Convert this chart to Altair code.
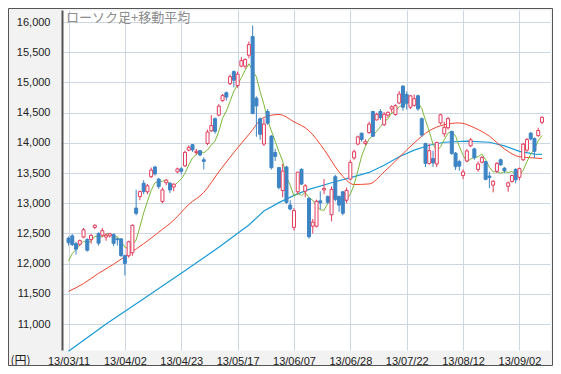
import altair as alt
import pandas as pd

# ---- data (daily candles, 2013/03/11 - 2013/09/10) ----
opens = [12420, 12460, 12330, 12320, 12440, 12400, 12400, 12600, 12500, 12470,
         12440, 12460, 12480, 12410, 12410, 12130, 12130, 12180, 12920, 13110,
         13330, 13190, 13440, 13600, 13400, 13030, 13340, 13330, 13270, 13520,
         13570, 13620, 13880, 13970, 13840, 13870, 13720, 13990, 14200, 14400,
         14460, 14700, 14830, 14980, 15180, 14950, 15270, 15270, 15450, 15760,
         14740, 14400, 13980, 14520, 14110, 13840, 13590, 13210, 13600, 12970,
         12600, 13190, 13560, 13200, 13080, 12620, 12620, 13040, 13220, 13110,
         12810, 13440, 13110, 13190, 13050, 13400, 13750, 13980, 14160, 13990,
         14170, 14520, 14380, 14520, 14300, 14460, 14560, 14470, 14660, 14940,
         14800, 14590, 14620, 14780, 14400, 13990, 13660, 13740, 13650, 14330,
         14150, 14250, 14190, 13830, 13690, 13460, 13700, 13950, 13900, 13560,
         13680, 13690, 13450, 13300, 13530, 13720, 13580, 13280, 13360, 13560,
         13430, 13720, 13880, 14160, 14070, 14120, 14340]
highs = [12450, 12490, 12360, 12400, 12590, 12420, 12490, 12650, 12520, 12590,
         12500, 12510, 12500, 12430, 12420, 12150, 12380, 12650, 13225, 13210,
         13380, 13320, 13590, 13620, 13420, 13260, 13400, 13350, 13330, 13590,
         13600, 13870, 13960, 13980, 13900, 13880, 13760, 14220, 14460, 14420,
         14640, 14810, 14850, 15130, 15200, 15180, 15420, 15400, 15680, 15942,
         14770, 14420, 14400, 14560, 14130, 13900, 13600, 13650, 13620, 13050,
         12920, 13520, 13580, 13320, 13100, 12740, 13060, 13200, 13400, 13130,
         13280, 13470, 13130, 13200, 13260, 13720, 13890, 14120, 14170, 14060,
         14350, 14530, 14500, 14560, 14510, 14520, 14620, 14640, 14860, 14953,
         14850, 14790, 14800, 14800, 14420, 14000, 13980, 13870, 14020, 14480,
         14350, 14430, 14200, 13850, 13720, 13560, 13900, 14080, 13920, 13690,
         13780, 13700, 13520, 13380, 13680, 13740, 13600, 13360, 13470, 13580,
         13590, 14000, 14080, 14180, 14090, 14250, 14440]
lows = [12300, 12290, 12150, 12290, 12420, 12200, 12330, 12570, 12300, 12440,
        12380, 12430, 12290, 12300, 12110, 11805, 12100, 12130, 12800, 13050,
        13150, 13150, 13420, 13460, 13240, 13000, 13300, 13170, 13200, 13500,
        13480, 13600, 13860, 13850, 13800, 13780, 13560, 13960, 14180, 14150,
        14440, 14680, 14700, 14960, 14920, 14910, 15250, 15230, 15400, 14480,
        14100, 14050, 13950, 14300, 13560, 13700, 13230, 13100, 12990, 12880,
        12548, 13150, 13300, 13100, 12415, 12500, 12600, 12900, 13150, 12990,
        12700, 13030, 12860, 12800, 13000, 13380, 13720, 13960, 14020, 13960,
        14150, 14100, 14370, 14380, 14280, 14420, 14500, 14450, 14640, 14530,
        14550, 14560, 14600, 14530, 14100, 13600, 13640, 13600, 13600, 14300,
        14100, 14220, 13800, 13550, 13540, 13400, 13680, 13930, 13720, 13520,
        13660, 13380, 13250, 13180, 13500, 13620, 13500, 13190, 13340, 13330,
        13380, 13700, 13850, 14040, 13750, 14100, 14310]
closes = [12349, 12315, 12240, 12381, 12561, 12221, 12468, 12636, 12339, 12546,
          12472, 12494, 12336, 12398, 12135, 12003, 12362, 12635, 12834, 13193,
          13192, 13288, 13549, 13485, 13276, 13221, 13383, 13220, 13316, 13568,
          13530, 13843, 13926, 13884, 13861, 13799, 13694, 14180, 14286, 14191,
          14608, 14782, 14758, 15096, 15037, 15138, 15361, 15381, 15627, 14484,
          14612, 14143, 14312, 14326, 13589, 13775, 13262, 13534, 13015, 12904,
          12878, 13514, 13318, 13289, 12445, 12687, 13033, 13007, 13245, 13015,
          13230, 13063, 12969, 12834, 13214, 13677, 13853, 14099, 14056, 14019,
          14310, 14109, 14473, 14417, 14473, 14506, 14599, 14615, 14809, 14590,
          14658, 14779, 14731, 14563, 14130, 13661, 13870, 13668, 14006, 14466,
          14258, 14401, 13825, 13606, 13615, 13519, 13867, 14050, 13753, 13650,
          13758, 13396, 13424, 13365, 13661, 13636, 13542, 13338, 13459, 13389,
          13573, 13978, 14054, 14065, 13861, 14205, 14423]

# green line (short moving average), one value per trading day
ma_short = [12043, 12169, 12231, 12314, 12369, 12344, 12374, 12453, 12445, 12442,
            12492, 12497, 12437, 12449, 12367, 12273, 12247, 12307, 12394, 12605,
            12843, 13028, 13211, 13341, 13358, 13364, 13383, 13317, 13283, 13342,
            13403, 13495, 13637, 13750, 13809, 13863, 13833, 13884, 13964, 14030,
            14192, 14409, 14525, 14687, 14856, 14962, 15078, 15203, 15309, 15198,
            15093, 14849, 14636, 14375, 14196, 14029, 13853, 13697, 13435, 13298,
            13119, 13169, 13126, 13181, 13089, 13051, 12954, 12892, 12883, 12997,
            13106, 13112, 13104, 13022, 13062, 13151, 13309, 13535, 13780, 13941,
            14067, 14119, 14193, 14266, 14356, 14396, 14494, 14522, 14600, 14624,
            14654, 14690, 14713, 14664, 14572, 14373, 14191, 13978, 13867, 13934,
            14054, 14160, 14191, 14111, 13941, 13793, 13686, 13731, 13761, 13768,
            13816, 13721, 13596, 13519, 13521, 13496, 13526, 13508, 13527, 13473,
            13460, 13547, 13691, 13812, 13906, 14033, 14122]

# red line (medium moving average), read at sample days
ma_mid_day = [0, 4, 8, 12, 16, 20, 24, 28, 32, 36, 40, 44, 48, 52, 56, 60, 64, 68,
              72, 76, 80, 84, 88, 92, 96, 100, 104, 108, 112, 116, 120, 124, 126]
ma_mid_val = [11540, 11670, 11840, 11990, 12160, 12330, 12520, 12720, 12980, 13180,
              13520, 13840, 14140, 14420, 14470, 14350, 14200, 13890, 13520, 13310,
              13320, 13520, 13760, 14000, 14200, 14300, 14330, 14250, 14110, 13900,
              13770, 13750, 13740]

# blue line (long moving average), read at sample days
ma_long_day = [0, 10, 20, 30, 40, 48, 52, 56, 60, 64, 70, 76, 80, 84, 88, 92, 96,
               100, 106, 112, 116, 120, 124, 126]
ma_long_val = [10550, 11000, 11420, 11840, 12270, 12640, 12870, 13010, 13130, 13230,
               13340, 13440, 13510, 13630, 13770, 13880, 13960, 14010, 14030, 14010,
               13950, 13860, 13815, 13810]

tick_days = [0, 15, 30, 45, 60, 75, 90, 105, 120]
tick_labels = ["13/03/11", "13/04/02", "13/04/23", "13/05/17", "13/06/07",
               "13/06/28", "13/07/22", "13/08/12", "13/09/02"]
y_ticks = [11000, 11500, 12000, 12500, 13000, 13500, 14000, 14500, 15000, 15500, 16000]
title_text = "ローソク足+移動平均"
unit_text = "(円)"

# ---- styling ----
RED = "#e23c5c"
BLUE = "#3d84c4"
GREEN = "#7cb83a"
MA_RED = "#f0452e"
MA_BLUE = "#1a9ad6"
BG = "#f2f2f2"
W, H = 488, 340

candles = pd.DataFrame({
    "day": list(range(len(closes))),
    "open": opens, "high": highs, "low": lows, "close": closes,
})
candles["dir"] = ["up" if c >= o else "down" for o, c in zip(opens, closes)]

short_df = pd.DataFrame({"day": list(range(len(ma_short))), "v": ma_short})
mid_df = pd.DataFrame({"day": ma_mid_day, "v": ma_mid_val})
long_df = pd.DataFrame({"day": ma_long_day, "v": ma_long_val})

label_expr = ("[" + ",".join("'%s'" % t for t in tick_labels) + "][indexof(["
              + ",".join(str(d) for d in tick_days) + "], datum.value)]")

x_scale = alt.Scale(domain=[-0.4, 126.8], nice=False, zero=False)
y_scale = alt.Scale(domain=[10570, 16200], nice=False, zero=False)

x_axis = alt.Axis(values=tick_days, labelExpr=label_expr, title=None,
                  grid=True, domain=False, ticks=False, labelPadding=5,
                  labelFontSize=11, labelColor="#222",
                  labelFont="Liberation Sans", labelFlush=False)
y_axis = alt.Axis(values=y_ticks, labelExpr="format(datum.value, ',')",
                  grid=True, ticks=False,
                  domain=True, domainColor="#555", domainWidth=2,
                  labelPadding=12, labelFontSize=11, labelColor="#222",
                  labelFont="Liberation Sans",
                  title=unit_text, titleAngle=0, titleX=-52, titleY=H + 14,
                  titleAlign="left", titleBaseline="alphabetic",
                  titleFontSize=12, titleFontWeight="normal",
                  titleColor="#222", titleFont="Noto Sans CJK JP")


def xe():
    return alt.X("day:Q", scale=x_scale, axis=x_axis)


def ye(field):
    return alt.Y(field, scale=y_scale, axis=y_axis)


wicks = alt.Chart(candles).mark_rule(strokeWidth=1).encode(
    x=xe(), y=ye("low:Q"), y2="high:Q",
    color=alt.Color("dir:N", scale=alt.Scale(domain=["up", "down"], range=[RED, BLUE]),
                    legend=None),
)

body_up = alt.Chart(candles).transform_filter("datum.close >= datum.open").mark_bar(
    size=3, fill="white", stroke=RED, strokeWidth=1, orient="vertical"
).encode(x=xe(), y=ye("open:Q"), y2="close:Q")

body_down = alt.Chart(candles).transform_filter("datum.close < datum.open").mark_bar(
    size=3, fill=BLUE, stroke=BLUE, strokeWidth=1, orient="vertical"
).encode(x=xe(), y=ye("open:Q"), y2="close:Q")

line_long = alt.Chart(long_df).mark_line(color=MA_BLUE, strokeWidth=1.2).encode(
    x=xe(), y=ye("v:Q"))
line_mid = alt.Chart(mid_df).mark_line(color=MA_RED, strokeWidth=1,
                                       interpolate="monotone").encode(
    x=xe(), y=ye("v:Q"))
line_short = alt.Chart(short_df).mark_line(color=GREEN, strokeWidth=1).encode(
    x=xe(), y=ye("v:Q"))

title_mark = alt.Chart(pd.DataFrame({"t": [title_text]})).mark_text(
    align="left", baseline="top", font="Noto Sans CJK JP", fontSize=13,
    color="#8c8c8c"
).encode(text="t:N", x=alt.value(4), y=alt.value(2))

frame = alt.Chart(pd.DataFrame({"f": [1]})).mark_rect(
    fill="transparent", stroke="#555", strokeWidth=1
).encode(x=alt.value(-53.5), x2=alt.value(W + 2.5), y=alt.value(-1.5), y2=alt.value(H + 15.5))

chart = alt.layer(
    line_long, line_mid, line_short, wicks, body_down, body_up, title_mark, frame
).properties(
    width=W, height=H,
    autosize=alt.AutoSizeParams(type="none"),
    padding={"left": 54, "right": 3, "top": 2, "bottom": 16},
    background=BG,
).configure(
    background=BG
).configure_view(
    fill="white", stroke="transparent"
).configure_axis(
    gridColor="#cdd6e3", gridWidth=1
)

chart.save("out.html", embed_options={"renderer": "svg", "actions": False})
